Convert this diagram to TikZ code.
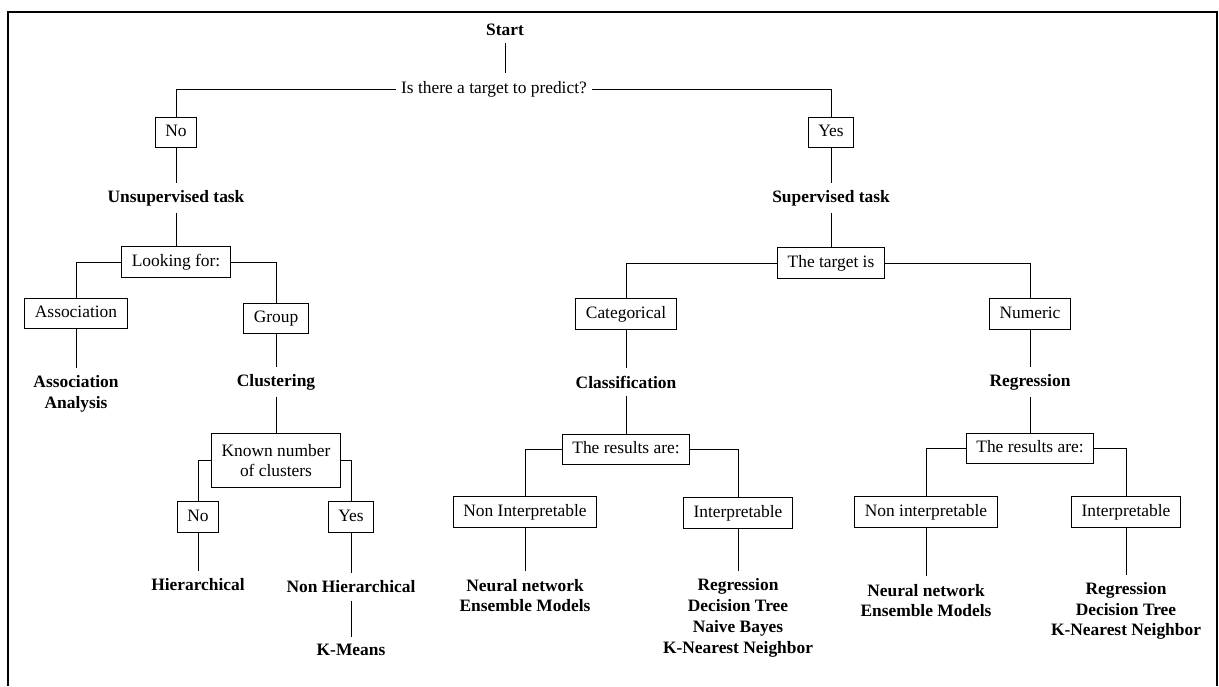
\documentclass[tikz,border=0pt]{standalone}
\usepackage{fontspec}
\setmainfont{Liberation Serif}
\usepackage{tikz}

\begin{document}
\begin{tikzpicture}[x=1pt,y=-1pt,line width=1pt,
  every node/.style={font=\fontsize{17.4pt}{20.8pt}\selectfont},
  box/.style={draw,inner xsep=10pt,inner ysep=7pt,text height=12.5pt,text depth=4pt},
  box2/.style={draw,inner xsep=10pt,inner ysep=10pt,align=center},
  lbl/.style={execute at begin node=\bfseries,align=center,inner sep=7pt},
  txt/.style={inner xsep=5pt,inner ysep=7pt,text height=12.5pt,text depth=4pt}]
  \useasboundingbox (0,0) rectangle (1219,686);
  % frame
  \draw[line width=1.6pt] (8,686) -- (8,12) -- (1217,12) -- (1217,686);
  % top question
  \node[lbl] (start) at (505,30) {Start};
  \node[txt] (q) at (494,89) {Is there a target to predict?};
  \node[box] (no) at (176,132.5) {No};
  \node[box] (yes) at (831,132.5) {Yes};
  \node[lbl] (unsup) at (176,198) {Unsupervised task};
  \node[lbl] (sup) at (831,198) {Supervised task};
  % unsupervised side
  \node[box] (look) at (176,262) {Looking for:};
  \node[box] (assoc) at (76,313.5) {Association};
  \node[box] (group) at (276,318.5) {Group};
  \node[lbl] (assocres) at (76,393.5) {Association\\Analysis};
  \node[lbl] (clust) at (276,382) {Clustering};
  \node[box2] (known) at (276,460.5) {Known number\\of clusters};
  \node[box] (kno) at (198,517) {No};
  \node[box] (kyes) at (351,517) {Yes};
  \node[lbl] (hier) at (198,585) {Hierarchical};
  \node[lbl] (nonhier) at (351,587) {Non Hierarchical};
  \node[lbl] (kmeans) at (351,650) {K-Means};
  % supervised side
  \node[box] (target) at (831,263) {The target is};
  \node[box] (cat) at (626,314) {Categorical};
  \node[box] (num) at (1030,314) {Numeric};
  \node[lbl] (classif) at (626,382) {Classification};
  \node[lbl] (regr) at (1030,382) {Regression};
  \node[box] (catres) at (626,449.5) {The results are:};
  \node[box] (numres) at (1030,448.5) {The results are:};
  \node[box] (catnon) at (525,512) {Non Interpretable};
  \node[box] (catint) at (738,513) {Interpretable};
  \node[box] (numnon) at (926,512) {Non interpretable};
  \node[box] (numint) at (1126,512) {Interpretable};
  \node[lbl] (catnonres) at (525,595.5) {Neural network\\Ensemble Models};
  \node[lbl] (catintres) at (738,618) {Regression\\Decision Tree\\Naive Bayes\\K-Nearest Neighbor};
  \node[lbl] (numnonres) at (926,600.5) {Neural network\\Ensemble Models};
  \node[lbl] (numintres) at (1126,611) {Regression\\Decision Tree\\K-Nearest Neighbor};
  % connectors
  \draw (start) -- (start |- q.north);
  \draw (q.west) -| (no);
  \draw (q.east) -| (yes);
  \draw (no) -- (unsup) -- (look);
  \draw (yes) -- (sup) -- (target);
  \draw (look.west) -| (assoc);
  \draw (look.east) -| (group);
  \draw (assoc) -- (assocres);
  \draw (group) -- (clust) -- (known);
  \draw (known.west) -| (kno);
  \draw (known.east) -| (kyes);
  \draw (kno) -- (hier);
  \draw (kyes) -- (nonhier) -- (kmeans);
  \draw (target.west) -| (cat);
  \draw (target.east) -| (num);
  \draw (cat) -- (classif) -- (catres);
  \draw (num) -- (regr) -- (numres);
  \draw (catres.west) -| (catnon);
  \draw (catres.east) -| (catint);
  \draw (numres.west) -| (numnon);
  \draw (numres.east) -| (numint);
  \draw (catnon) -- (catnonres);
  \draw (catint) -- (catintres);
  \draw (numnon) -- (numnonres);
  \draw (numint) -- (numintres);
\end{tikzpicture}
\end{document}
